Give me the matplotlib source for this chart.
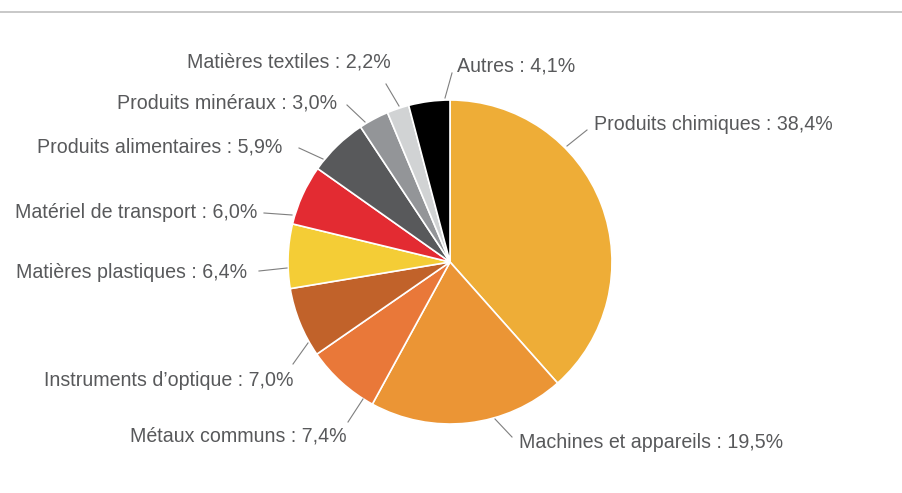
import matplotlib
matplotlib.use("Agg")
import matplotlib.pyplot as plt

plt.rcParams['font.family'] = ['Liberation Sans', 'DejaVu Sans']

# parts des exportations, dans l'ordre des aiguilles d'une montre depuis midi
categories = [
    "Produits chimiques", "Machines et appareils", "Métaux communs",
    "Instruments d\u2019optique", "Matières plastiques", "Matériel de transport",
    "Produits alimentaires", "Produits minéraux", "Matières textiles", "Autres",
]
shares = [38.4, 19.5, 7.4, 7.0, 6.4, 6.0, 5.9, 3.0, 2.2, 4.1]
colors = [
    "#EEAD37", "#EB9535", "#E97839", "#C1622A", "#F4CD36",
    "#E32B32", "#58595B", "#939598", "#D1D3D4", "#000000",
]

# placement des étiquettes (pixels) : début du trait, fin du trait, texte, alignement
label_layout = [
    ((567, 146), (587, 130), (594, 125), "left"),
    ((495, 419), (512, 437), (519, 443), "left"),
    ((363, 399), (348, 422), (347, 436), "right"),
    ((308, 343), (293, 364), (293, 380), "right"),
    ((287, 268), (259, 271), (247, 273), "right"),
    ((292, 215), (264, 213), (257, 213), "right"),
    ((323, 159), (299, 148), (282, 147), "right"),
    ((365, 122), (347, 105), (337, 103), "right"),
    ((399, 106), (386, 84), (289, 62), "center"),
    ((445, 98), (452, 73), (457, 66), "left"),
]

W, H = 902, 493
cx, cy, r = 450, 262, 162

fig = plt.figure(figsize=(W / 100, H / 100), dpi=100)

ax = fig.add_axes([(cx - r) / W, (H - cy - r) / H, 2 * r / W, 2 * r / H])
ax.pie(shares, colors=colors, startangle=90, counterclock=False, radius=1,
       wedgeprops=dict(edgecolor="white", linewidth=1.2))
ax.set_xlim(-1, 1)
ax.set_ylim(-1, 1)
ax.axis("off")

# calque en pixels pour les étiquettes et le filet du haut
over = fig.add_axes([0, 0, 1, 1])
over.set_xlim(0, W)
over.set_ylim(H, 0)
over.axis("off")
over.patch.set_alpha(0)

over.plot([0, W], [12, 12], color="#C8C8C8", lw=1.4)

for name, val, (p0, p1, pt, ha) in zip(categories, shares, label_layout):
    over.plot([p0[0], p1[0]], [p0[1], p1[1]], color="#7F7F7F", lw=0.8)
    txt = f"{name} : {val:.1f}%".replace(".", ",")
    over.text(pt[0], pt[1], txt, ha=ha, va="center", fontsize=14.1,
              color="#58595B")

fig.savefig("out.png", dpi=100)
